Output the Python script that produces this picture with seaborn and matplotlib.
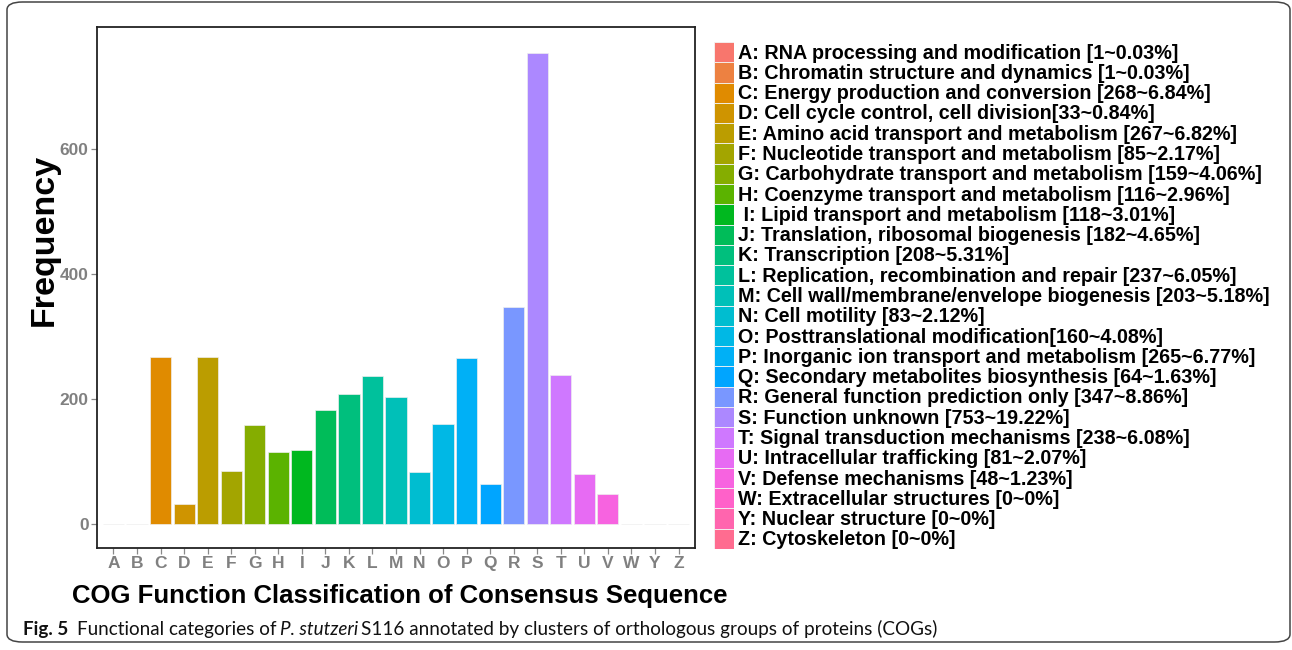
import numpy as np
import pandas as pd
import seaborn as sns
import matplotlib.pyplot as plt
from matplotlib.patches import FancyBboxPatch

codes = ['A', 'B', 'C', 'D', 'E', 'F', 'G', 'H', 'I', 'J', 'K', 'L', 'M',
         'N', 'O', 'P', 'Q', 'R', 'S', 'T', 'U', 'V', 'W', 'Y', 'Z']
counts = [1, 1, 268, 33, 267, 85, 159, 116, 118, 182, 208, 237, 203,
          83, 160, 265, 64, 347, 753, 238, 81, 48, 0, 0, 0]
pcts = ['0.03', '0.03', '6.84', '0.84', '6.82', '2.17', '4.06', '2.96', '3.01',
        '4.65', '5.31', '6.05', '5.18', '2.12', '4.08', '6.77', '1.63', '8.86',
        '19.22', '6.08', '2.07', '1.23', '0', '0', '0']
descs = ['RNA processing and modification ',
         'Chromatin structure and dynamics ',
         'Energy production and conversion ',
         'Cell cycle control, cell division',
         'Amino acid transport and metabolism ',
         'Nucleotide transport and metabolism ',
         'Carbohydrate transport and metabolism ',
         'Coenzyme transport and metabolism ',
         'Lipid transport and metabolism ',
         'Translation, ribosomal biogenesis ',
         'Transcription ',
         'Replication, recombination and repair ',
         'Cell wall/membrane/envelope biogenesis ',
         'Cell motility ',
         'Posttranslational modification',
         'Inorganic ion transport and metabolism ',
         'Secondary metabolites biosynthesis ',
         'General function prediction only ',
         'Function unknown ',
         'Signal transduction mechanisms ',
         'Intracellular trafficking ',
         'Defense mechanisms ',
         'Extracellular structures ',
         'Nuclear structure ',
         'Cytoskeleton ']
yticks = [0, 200, 400, 600]

df = pd.DataFrame({'code': codes, 'count': counts})
labels = [f"{c}: {d}[{n}~{p}%]" for c, d, n, p in zip(codes, descs, counts, pcts)]
labels[8] = ' ' + labels[8]


def hue_pal(n, h0=15, l=65, c=100):
    # ggplot2 style hcl hue palette
    hs = np.linspace(h0, h0 + 360 - 360 / n, n)
    out = []
    for h in hs:
        hr = np.deg2rad(h)
        U, V = c * np.cos(hr), c * np.sin(hr)
        Y = 100 * ((l + 16) / 116) ** 3
        u = U / (13 * l) + 0.1978398
        v = V / (13 * l) + 0.4683363
        X = 9.0 * Y * u / (4 * v)
        Z = -X / 3 - 5 * Y + 3 * Y / v
        rgb = []
        for a, b, d in [(3.240479, -1.537150, -0.498535),
                        (-0.969256, 1.875992, 0.041556),
                        (0.055648, -0.204043, 1.057311)]:
            t = (a * X + b * Y + d * Z) / 100
            t = 1.055 * t ** (1 / 2.4) - 0.055 if t > 0.00304 else 12.92 * t
            rgb.append(min(max(t, 0), 1))
        out.append(tuple(rgb))
    return out


colors = hue_pal(len(codes))

sns.set_style('white')
plt.rcParams['font.family'] = ['Liberation Sans', 'DejaVu Sans']

W, H = 1292, 650
fig = plt.figure(figsize=(W / 100, H / 100), dpi=100)

# outer rounded frame
frame = FancyBboxPatch((7 / W, 8 / H), 1283 / W, 640 / H,
                       boxstyle='round,pad=0,rounding_size=0.012',
                       transform=fig.transFigure, fill=False,
                       edgecolor='#444444', linewidth=1.1)
fig.patches.append(frame)

ax = fig.add_axes([97 / W, 1 - 548 / H, 598 / W, 521 / H])
sns.barplot(data=df, x='code', y='count', hue='code', palette=colors,
            saturation=1, legend=False, width=0.9, edgecolor='#eeeeee',
            linewidth=0.5, ax=ax)
ax.set_xlim(-0.7, 24.7)
ax.set_ylim(-38, 795)
ax.set_yticks(yticks)
ax.set_xlabel('')
ax.set_ylabel('')
for s in ax.spines.values():
    s.set_visible(True)
    s.set_color('#222222')
    s.set_linewidth(1.3)
ax.tick_params(axis='both', which='major', length=4, width=0.9,
               color='#888888', labelcolor='#808080', labelsize=12.5, pad=2,
               bottom=True, left=True)
for t in ax.get_xticklabels() + ax.get_yticklabels():
    t.set_fontweight('bold')

fig.text(44 / W, 1 - 240 / H, 'Frequency', rotation=90, ha='center',
         va='center', fontsize=24.5, fontweight='bold', color='black')
fig.text(400 / W, 1 - 603 / H,
         'COG Function Classification of Consensus Sequence',
         ha='center', va='baseline', fontsize=18.5, fontweight='bold',
         color='black')

# legend: stacked colour keys with labels
lax = fig.add_axes([714 / W, 1 - 549 / H, 20 / W, 507 / H])
lax.barh(np.arange(len(codes)), [1] * len(codes), height=1.0, color=colors,
         edgecolor='#f4f4f4', linewidth=0.6)
lax.set_xlim(0, 1)
lax.set_ylim(len(codes) - 0.5, -0.5)
lax.axis('off')
for i, lab in enumerate(labels):
    lax.text(1.2, i + 0.05, lab, transform=lax.get_yaxis_transform(),
             ha='left', va='center', fontsize=14.2, fontweight='bold',
             color='black', clip_on=False)

# caption: fit pieces to the measured width
renderer = fig.canvas.get_renderer()
cap_parts = [('Fig. 5', 'bold', 'normal'),
             ('Functional categories of', 'normal', 'normal'),
             ('P. stutzeri', 'normal', 'italic'),
             ('S116 annotated by clusters of orthologous groups of proteins (COGs)',
              'normal', 'normal')]
gaps = [1.0, 0.45, 0.3]
cap_fam = ['Lato', 'DejaVu Sans']


def place_caption(size, draw):
    x = 23.0
    items = []
    for k, (s, w, st) in enumerate(cap_parts):
        t = fig.text(x / W, 1 - 635 / H, s, fontsize=size, fontweight=w,
                     fontstyle=st, family=cap_fam, color='#111111',
                     va='baseline', ha='left')
        wpx = t.get_window_extent(renderer).width
        items.append(t)
        x += wpx
        if k < len(gaps):
            x += gaps[k] * size * 100 / 72 * 0.45
    if not draw:
        for t in items:
            t.remove()
    return x


base = 13.0
end = place_caption(base, False)
size = base * (935 - 23) / (end - 23)
place_caption(size, True)

fig.savefig('out.png', dpi=100)
